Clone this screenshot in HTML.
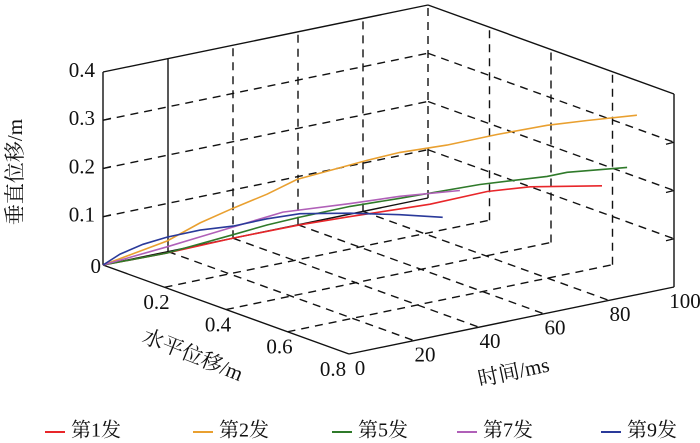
<!DOCTYPE html>
<html><head><meta charset="utf-8">
<style>
html,body{margin:0;padding:0;background:#fff;}
svg{display:block;font-family:"Liberation Serif","Times New Roman","DejaVu Serif","Noto Serif CJK SC",serif;}
svg text{font-family:"Liberation Serif","Times New Roman","DejaVu Serif","Noto Serif CJK SC",serif !important;fill:#111;}
</style></head>
<body>
<svg id="chart" width="700" height="443" viewBox="0 0 700 443" xmlns="http://www.w3.org/2000/svg">
<g id="grid"></g>
<g id="box"></g>
<g id="series"></g>
<g id="labels"></g>
<text x="17" y="172" font-size="21" text-anchor="middle" dominant-baseline="middle" transform="rotate(-90 17 172)">垂直位移/m</text>
<text x="192" y="357" font-size="21" text-anchor="middle" dominant-baseline="middle" transform="rotate(22 192 357)">水平位移/m</text>
<text x="514" y="374" font-size="21" text-anchor="middle" dominant-baseline="middle" transform="rotate(-12 514 374)">时间/ms</text>
<g id="legend"></g>
</svg>
<script>
const seriesNames = ["第1发","第2发","第5发","第7发","第9发"];
const seriesColors = ["#e8262a","#e9a030","#2f7a2a","#b060b8","#2a3a9a"];
const zTicks = [0,0.1,0.2,0.3,0.4];
const zTickLabels = ["0","0.1","0.2","0.3","0.4"];
const xTicks = [0.2,0.4,0.6,0.8];
const xTickLabels = ["0.2","0.4","0.6","0.8"];
const tTicks = [0,20,40,60,80,100];
const tTickLabels = ["0","20","40","60","80","100"];
// series data: time (ms), horizontal displacement x (m), vertical displacement z (m)
const t1 = [0,11.2,22.8,34.5,43.3,52.0,57.3,67.3,74.8,87.4];
const x1 = [0,0.090,0.182,0.276,0.346,0.416,0.458,0.538,0.598,0.699];
const z1 = [0,0.030,0.066,0.099,0.120,0.140,0.152,0.183,0.196,0.204];
const t2 = [0,11.2,17.0,22.8,28.7,34.0,40.3,46.2,52.0,60.2,69.0,77.8,84.8,93.5];
const x2 = [0,0.090,0.136,0.182,0.230,0.272,0.322,0.370,0.416,0.482,0.552,0.622,0.678,0.748];
const z2 = [0,0.055,0.095,0.128,0.160,0.193,0.216,0.238,0.257,0.276,0.302,0.325,0.338,0.353];
const t5 = [0,11.2,22.8,28.7,34.5,43.3,52.0,66.0,77.8,81.3,91.8];
const x5 = [0,0.090,0.182,0.230,0.276,0.346,0.416,0.528,0.622,0.650,0.734];
const z5 = [0,0.030,0.073,0.096,0.115,0.141,0.162,0.197,0.219,0.229,0.244];
const t7 = [0,11.2,17.0,22.8,31.5,43.3,52.0,62.5];
const x7 = [0,0.090,0.136,0.182,0.252,0.346,0.416,0.500];
const z7 = [0,0.043,0.066,0.089,0.124,0.147,0.166,0.183];
const t9 = [0,3.0,7.0,11.2,17.0,22.8,28.7,34.5,43.3,52.0,59.5];
const x9 = [0,0.024,0.056,0.090,0.136,0.182,0.230,0.276,0.346,0.416,0.476];
const z9 = [0,0.024,0.046,0.063,0.080,0.091,0.109,0.122,0.127,0.128,0.126];
const allT = [t1,t2,t5,t7,t9], allX = [x1,x2,x5,x7,x9], allZ = [z1,z2,z5,z7,z9];

const NS = "http://www.w3.org/2000/svg";
function proj(x,t,z){ return [103 + 307.5*x + 3.25*t, 265 + 111.25*x - 0.67*t - 482.5*z]; }
function line(g,a,b,dash,name,w){
  const l=document.createElementNS(NS,"line");
  l.setAttribute("x1",a[0]);l.setAttribute("y1",a[1]);l.setAttribute("x2",b[0]);l.setAttribute("y2",b[1]);
  l.setAttribute("stroke","#111");l.setAttribute("stroke-width",w||1.4);
  if(dash) l.setAttribute("stroke-dasharray","8,6");
  
  
  g.appendChild(l);
}
const grid=document.getElementById("grid"), box=document.getElementById("box");
[40,60,80,100].forEach(t=>line(grid,proj(0,t,0),proj(0,t,0.4),true,"grid-line"));
line(box,proj(0,20,0),proj(0,20,0.4),false,"grid-line",1.4);
[0.1,0.2,0.3].forEach(z=>line(grid,proj(0,0,z),proj(0,100,z),true,"grid-line"));
[0.2,0.4,0.6].forEach(x=>line(grid,proj(x,100,0),proj(x,100,0.4),true,"grid-line"));
[0.1,0.2,0.3].forEach(z=>line(grid,proj(0,100,z),proj(0.8,100,z),true,"grid-line"));
[0.2,0.4,0.6].forEach(x=>line(grid,proj(x,0,0),proj(x,100,0),true,"grid-line"));
[20,40,60,80].forEach(t=>line(grid,proj(0,t,0),proj(0.8,t,0),true,"grid-line"));
line(box,proj(0,0,0),proj(0,0,0.4),false,"z-axis");
line(box,proj(0,0,0),proj(0.8,0,0),false,"x-axis");
line(box,proj(0.8,0,0),proj(0.8,100,0),false,"t-axis");
line(box,proj(0.8,100,0),proj(0.8,100,0.4),false,"box-edge");
line(box,proj(0,0,0.4),proj(0,100,0.4),false,"box-edge");
line(box,proj(0,100,0.4),proj(0.8,100,0.4),false,"box-edge");
line(box,proj(0,0,0),proj(0,100,0),false,"box-edge");
[0.1,0.2,0.3].forEach(z=>{const p=proj(0,0,z);line(box,p,[p[0]+8,p[1]-2],false,"z-tick");
  const q=proj(0.8,100,z);line(box,q,[q[0]-8,q[1]+2],false,"z-tick");});
const sg=document.getElementById("series");
allT.forEach((ts,i)=>{
  const pts=ts.map((t,j)=>proj(allX[i][j],t,allZ[i][j]).map(v=>v.toFixed(1)).join(",")).join(" ");
  const pl=document.createElementNS(NS,"polyline");
  pl.setAttribute("points",pts);pl.setAttribute("fill","none");
  pl.setAttribute("stroke",seriesColors[i]);pl.setAttribute("stroke-width","1.6");
  
  
  sg.appendChild(pl);
});
const lg=document.getElementById("labels");
function txt(g,x,y,s,anchor,size){
  const e=document.createElementNS(NS,"text");
  e.setAttribute("x",x);e.setAttribute("y",y);e.setAttribute("font-size",size||21);
  e.setAttribute("text-anchor",anchor);e.setAttribute("dominant-baseline","middle");
  e.textContent=s;
  g.appendChild(e);return e;
}
zTicks.forEach((z,i)=>{const p=proj(0,0,z);
  const e=txt(lg,z===0?101:95,p[1]+(z===0?3:0),zTickLabels[i],"end");
  
  });
xTicks.forEach((x,i)=>{const p=proj(x,0,0);
  const e=txt(lg,p[0]-8-(x>0.7?8:0),p[1]+17,xTickLabels[i],"middle");
  
  });
tTicks.forEach((t,i)=>{const p=proj(0.8,t,0);
  const e=txt(lg,p[0]+11,p[1]+16,tTickLabels[i],"middle");
  
  });
const legX=[45,193,332,457,601];
const leg=document.getElementById("legend");
seriesNames.forEach((n,i)=>{
  const g=document.createElementNS(NS,"g");
  
  
  const l=document.createElementNS(NS,"line");
  l.setAttribute("x1",legX[i]);l.setAttribute("x2",legX[i]+20);l.setAttribute("y1",432);l.setAttribute("y2",432);
  l.setAttribute("stroke",seriesColors[i]);l.setAttribute("stroke-width",2);
  g.appendChild(l);
  txt(g,legX[i]+26,432,n,"start",20);
  leg.appendChild(g);
});
</script>
</body></html>
